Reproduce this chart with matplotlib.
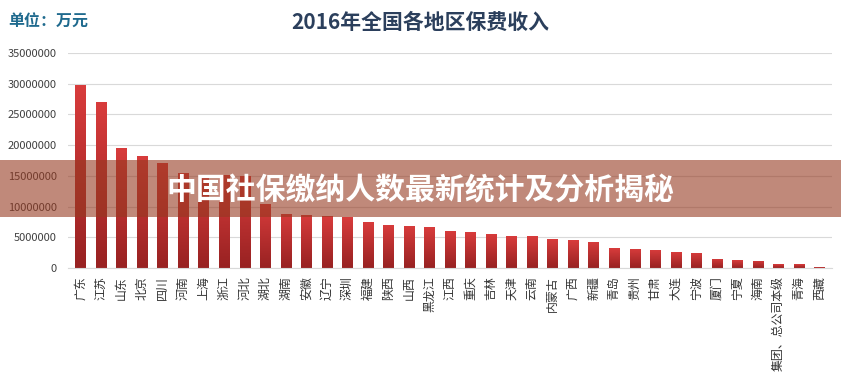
import matplotlib.pyplot as plt
import numpy as np
from matplotlib.patches import Rectangle

plt.rcParams['font.family'] = ['Noto Sans CJK SC', 'DejaVu Sans']

regions = ['广东', '江苏', '山东', '北京', '四川', '河南', '上海', '浙江', '河北', '湖北',
           '湖南', '安徽', '辽宁', '深圳', '福建', '陕西', '山西', '黑龙江', '江西', '重庆',
           '吉林', '天津', '云南', '内蒙古', '广西', '新疆', '青岛', '贵州', '甘肃', '大连',
           '宁波', '厦门', '宁夏', '海南', '集团、总公司本级', '青海', '西藏']
income = [29800000, 26950000, 19550000, 18300000, 17100000, 15500000, 15200000, 15150000,
          14900000, 10400000, 8850000, 8650000, 8400000, 8300000, 7450000, 7050000,
          6900000, 6650000, 6050000, 5800000, 5550000, 5200000, 5200000, 4700000,
          4550000, 4250000, 3250000, 3100000, 2950000, 2600000, 2450000, 1470000,
          1300000, 1150000, 650000, 650000, 160000]
yticks = [0, 5000000, 10000000, 15000000, 20000000, 25000000, 30000000, 35000000]

fig = plt.figure(figsize=(8.41, 3.79), dpi=100)
ax = fig.add_axes([0.081, 0.293, 0.908, 0.567])

x = np.arange(len(regions))
bars = ax.bar(x, income, width=0.5, color='#B52C2C', zorder=2)

# vertical gradient on each bar (lighter top, darker bottom)
grad = np.linspace(0, 1, 64).reshape(-1, 1)
cmap = plt.matplotlib.colors.LinearSegmentedColormap.from_list('bar', ['#982222', '#D83C3C'])
for b in bars:
    x0, w, h = b.get_x(), b.get_width(), b.get_height()
    im = ax.imshow(grad, extent=(x0, x0 + w, 0, h), origin='lower', cmap=cmap,
                   aspect='auto', zorder=2.5)
    im.set_clip_path(b)

ax.set_xlim(-0.6, len(regions) - 0.4)
ax.set_ylim(0, 35000000)
ax.set_yticks(yticks)
ax.set_yticklabels([str(v) for v in yticks], fontsize=8, color='#404040')
ax.set_xticks(x)
ax.set_xticklabels(regions, rotation=90, fontsize=8.6, color='#333333')
ax.tick_params(axis='both', length=0)
ax.tick_params(axis='y', pad=8)
ax.tick_params(axis='x', pad=6)
ax.grid(axis='y', color='#D9D9D9', linewidth=0.8, zorder=0)
ax.set_axisbelow(True)
for s in ['top', 'right', 'left']:
    ax.spines[s].set_visible(False)
ax.spines['bottom'].set_color('#D9D9D9')

fig.text(0.5, 0.942, '2016年全国各地区保费收入', ha='center', va='center',
         fontsize=15, fontweight='bold', color='#2B3F5C')
fig.text(0.01, 0.942, '单位：万元', ha='left', va='center',
         fontsize=11.5, fontweight='bold', color='#1F6A8E')

# overlay banner
fig.patches.append(Rectangle((0, 1 - 217 / 379), 1, 57 / 379, transform=fig.transFigure,
                             facecolor=(150 / 255, 58 / 255, 33 / 255), alpha=0.6,
                             edgecolor='none', zorder=10))
fig.text(0.5, 1 - 190 / 379, '中国社保缴纳人数最新统计及分析揭秘', ha='center', va='center',
         fontsize=21.5, fontweight='heavy', color='white', zorder=11)

fig.savefig('out.png', dpi=100)
